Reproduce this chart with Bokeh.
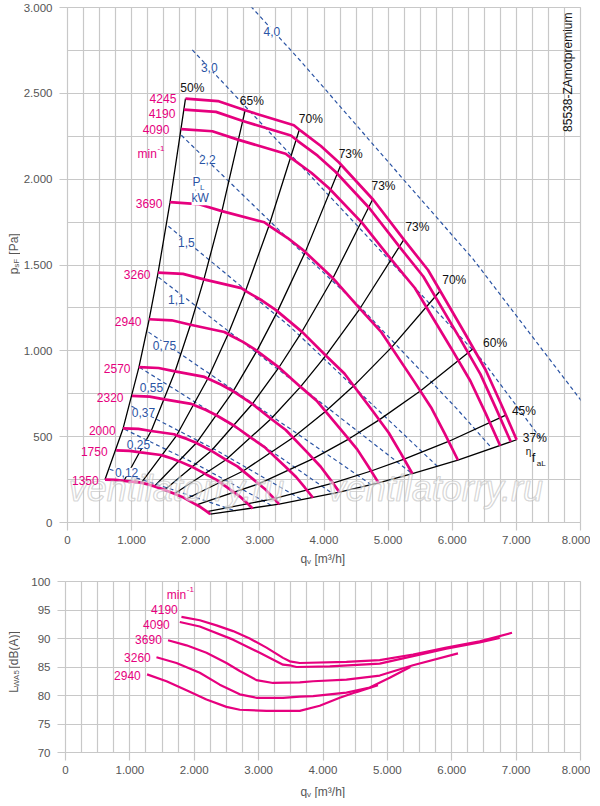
import math
from bokeh.plotting import figure
from bokeh.models import Range1d, FixedTicker, Label
from bokeh.layouts import column, row
from bokeh.embed import file_html
from bokeh.resources import INLINE

# ---------------- axis ticks ----------------
x_ticks = [0, 1000, 2000, 3000, 4000, 5000, 6000, 7000, 8000]
x_tick_labels = ["0", "1.000", "2.000", "3.000", "4.000", "5.000", "6.000", "7.000", "8.000"]
y1_ticks = [0, 500, 1000, 1500, 2000, 2500, 3000]
y1_tick_labels = ["0", "500", "1.000", "1.500", "2.000", "2.500", "3.000"]
y2_ticks = [70, 75, 80, 85, 90, 95, 100]
y2_tick_labels = ["70", "75", "80", "85", "90", "95", "100"]
x_grid = [0, 250, 500, 750, 1000, 1250, 1500, 1750, 2000, 2250, 2500, 2750, 3000, 3250, 3500, 3750,
          4000, 4250, 4500, 4750, 5000, 5250, 5500, 5750, 6000, 6250, 6500, 6750, 7000, 7250, 7500, 7750, 8000]
y1_grid = [0, 250, 500, 750, 1000, 1250, 1500, 1750, 2000, 2250, 2500, 2750, 3000]

# ---------------- speed curves (q_v m3/h, p_sF Pa) ----------------
speed_labels = ["4245", "4190", "4090", "3690", "3260", "2940", "2570", "2320", "2000", "1750", "1350"]
n4245_x = [1840, 2345, 2770, 3530, 3640, 3951, 4234, 4768, 5249, 5622, 6212, 6523, 6770, 7004]
n4245_y = [2469, 2455, 2401, 2314, 2281, 2193, 2097, 1880, 1646, 1471, 1092, 887, 683, 482]
n4190_x = [1816, 2315, 2734, 3484, 3593, 3900, 4179, 4706, 5181, 5549, 6132, 6439, 6682, 6913]
n4190_y = [2405, 2392, 2339, 2254, 2222, 2137, 2043, 1832, 1604, 1433, 1064, 864, 665, 470]
n4090_x = [1773, 2259, 2669, 3401, 3507, 3807, 4079, 4594, 5057, 5417, 5985, 6285, 6523, 6748]
n4090_y = [2292, 2279, 2229, 2148, 2118, 2036, 1947, 1745, 1528, 1366, 1014, 823, 634, 447]
n3690_x = [1599, 2038, 2408, 3069, 3164, 3434, 3680, 4145, 4563, 4887, 5400, 5670, 5885, 6088]
n3690_y = [1866, 1855, 1814, 1749, 1724, 1657, 1585, 1421, 1244, 1112, 825, 670, 516, 364]
n3260_x = [1413, 1801, 2127, 2711, 2795, 3034, 3252, 3662, 4031, 4318, 4771, 5009, 5199, 5379]
n3260_y = [1456, 1448, 1416, 1365, 1345, 1293, 1237, 1109, 971, 868, 644, 523, 403, 284]
n2940_x = [1274, 1624, 1918, 2445, 2521, 2736, 2932, 3302, 3635, 3894, 4302, 4518, 4689, 4851]
n2940_y = [1184, 1178, 1152, 1110, 1094, 1052, 1006, 902, 790, 706, 524, 426, 328, 231]
n2570_x = [1114, 1420, 1677, 2137, 2204, 2392, 2563, 2887, 3178, 3404, 3761, 3949, 4099, 4240]
n2570_y = [905, 900, 880, 848, 836, 804, 769, 689, 603, 539, 400, 325, 250, 177]
n2320_x = [1006, 1282, 1514, 1929, 1989, 2159, 2314, 2606, 2869, 3073, 3395, 3565, 3700, 3828]
n2320_y = [738, 733, 717, 691, 681, 655, 626, 562, 492, 439, 326, 265, 204, 144]
n2000_x = [867, 1105, 1305, 1663, 1715, 1862, 1995, 2246, 2473, 2649, 2927, 3073, 3190, 3300]
n2000_y = [548, 545, 533, 514, 506, 487, 466, 417, 365, 327, 242, 197, 152, 107]
n1750_x = [759, 967, 1142, 1455, 1501, 1629, 1746, 1966, 2164, 2318, 2561, 2689, 2791, 2887]
n1750_y = [420, 417, 408, 393, 388, 373, 356, 320, 280, 250, 186, 151, 116, 82]
n1350_x = [585, 746, 881, 1123, 1158, 1257, 1347, 1516, 1669, 1788, 1976, 2074, 2153, 2227]
n1350_y = [250, 248, 243, 234, 231, 222, 212, 190, 167, 149, 110, 90, 69, 49]
speed_lab_x = [1697, 1682, 1589, 1480, 1294, 1154, 983, 874, 750, 626, 486]
speed_lab_y = [2471, 2384, 2290, 1860, 1446, 1171, 898, 730, 538, 415, 246]

# ---------------- efficiency lines ----------------
eta_labels = ["50%", "65%", "70%", "73%", "73%", "73%", "70%", "60%", "45%", "37%"]
eta50_x = [1840, 1599, 1413, 1274, 1114, 867, 585]
eta50_y = [2469, 1866, 1456, 1184, 905, 548, 250]
eta65_x = [2770, 2408, 2127, 1918, 1677, 1305, 881]
eta65_y = [2401, 1814, 1416, 1152, 880, 533, 243]
eta70a_x = [3615, 3142, 2776, 2504, 2189, 1703, 1150]
eta70a_y = [2288, 1729, 1349, 1097, 839, 508, 231]
eta73a_x = [4265, 3707, 3275, 2954, 2582, 2009, 1356]
eta73a_y = [2085, 1575, 1230, 1000, 764, 463, 211]
eta73b_x = [4760, 4138, 3655, 3297, 2882, 2243, 1514]
eta73b_y = [1883, 1423, 1111, 903, 690, 418, 190]
eta73c_x = [5245, 4559, 4028, 3633, 3175, 2471, 1668]
eta73c_y = [1648, 1245, 972, 790, 604, 366, 167]
eta70b_x = [5813, 5053, 4464, 4026, 3519, 2739, 1849]
eta70b_y = [1350, 1020, 796, 648, 495, 300, 137]
eta60_x = [6330, 5502, 4861, 4384, 3832, 2982, 2013]
eta60_y = [1014, 766, 598, 486, 372, 225, 103]
eta45_x = [6836, 5942, 5250, 4735, 4139, 3221, 2174]
eta45_y = [625, 472, 369, 300, 229, 139, 63]
eta37_x = [7004, 6088, 5379, 4851, 4240, 3300, 2227]
eta37_y = [482, 364, 284, 231, 177, 107, 49]
eta_lab_x = [1760, 2688, 3607, 4229, 4741, 5270, 5844, 6481, 6931, 7101]
eta_lab_y = [2529, 2455, 2349, 2145, 1959, 1720, 1411, 1045, 648, 491]

# ---------------- shaft power lines P_L [kW] ----------------
power_labels = ["4,0", "3,0", "2,2", "1,5", "1,1", "0,75", "0,55", "0,37", "0,25", "0,12"]
pw40_x = [2785, 3639, 5238, 6326, 8150]
pw40_y = [3037, 2687, 1999, 1534, 642]
pw30_x = [1946, 4571, 6480, 7412]
pw30_y = [2753, 1708, 940, 474]
pw22_x = [1775, 3686, 4571, 6078, 6590]
pw22_y = [2256, 1563, 1253, 660, 444]
pw15_x = [1573, 3483, 5766]
pw15_y = [1726, 1137, 328]
pw11_x = [1418, 3483, 5346]
pw11_y = [1429, 835, 293]
pw075_x = [1263, 3483, 4772]
pw075_y = [1109, 543, 211]
pw055_x = [1123, 2862, 4151]
pw055_y = [904, 497, 165]
pw037_x = [999, 2319, 3639]
pw037_y = [677, 421, 136]
pw025_x = [890, 2008, 3173]
pw025_y = [543, 340, 101]
pw012_x = [657, 1620, 2629]
pw012_y = [310, 194, 66]
power_lab_x = [3188, 2210, 2179, 1853, 1697, 1511, 1309, 1185, 1107, 921]
power_lab_y = [2861, 2652, 2116, 1632, 1300, 1032, 788, 642, 456, 292]

# ---------------- sound power L_WA5 [dB(A)] ----------------
noise_labels = ["4190", "4090", "3690", "3260", "2940"]
lw4190_x = [1801, 2086, 2345, 2603, 2862, 3122, 3379, 3483, 3639, 4364, 4881, 5398, 5917, 6434, 6936]
lw4190_y = [93.8, 93.2, 92.3, 91.3, 90.0, 88.4, 86.6, 86.0, 85.7, 85.9, 86.2, 87.2, 88.4, 89.5, 91.0]
lw4090_x = [1775, 2086, 2603, 3017, 3379, 3483, 3588, 4105, 4881, 5398, 5917, 6434, 6745]
lw4090_y = [92.9, 92.1, 89.8, 87.5, 85.4, 85.3, 85.0, 85.1, 85.6, 86.9, 88.2, 89.3, 90.1]
lw3690_x = [1593, 1879, 2190, 2500, 2707, 2966, 3224, 3639, 3846, 4364, 4881, 5398, 6097]
lw3690_y = [89.7, 88.8, 87.5, 85.7, 84.3, 82.7, 82.2, 82.3, 82.5, 82.8, 83.5, 85.3, 87.4]
lw3260_x = [1413, 1724, 2086, 2396, 2707, 2966, 3379, 3639, 3846, 4364, 4726, 5036, 5357]
lw3260_y = [86.7, 85.7, 84.0, 81.9, 80.2, 79.6, 79.6, 79.8, 79.9, 80.5, 81.4, 83.1, 85.0]
lw2940_x = [1267, 1569, 1879, 2190, 2500, 2707, 3122, 3639, 3949, 4260, 4519, 4854]
lw2940_y = [83.7, 82.5, 80.9, 79.3, 78.0, 77.5, 77.3, 77.3, 78.2, 79.6, 80.6, 81.8]
noise_lab_x = [1744, 1620, 1496, 1325, 1169]
noise_lab_y = [95.05, 92.43, 89.81, 86.66, 83.51]

# ---------------- styling ----------------
PINK = "#e6007e"
BLUE = "#2b54a4"
GRID = "#c8c8c8"
TXT = "#555555"
FONT = "Liberation Sans"

speed_x = [n4245_x, n4190_x, n4090_x, n3690_x, n3260_x, n2940_x, n2570_x, n2320_x, n2000_x, n1750_x, n1350_x]
speed_y = [n4245_y, n4190_y, n4090_y, n3690_y, n3260_y, n2940_y, n2570_y, n2320_y, n2000_y, n1750_y, n1350_y]
eta_x = [eta50_x, eta65_x, eta70a_x, eta73a_x, eta73b_x, eta73c_x, eta70b_x, eta60_x, eta45_x, eta37_x]
eta_y = [eta50_y, eta65_y, eta70a_y, eta73a_y, eta73b_y, eta73c_y, eta70b_y, eta60_y, eta45_y, eta37_y]
pw_x = [pw40_x, pw30_x, pw22_x, pw15_x, pw11_x, pw075_x, pw055_x, pw037_x, pw025_x, pw012_x]
pw_y = [pw40_y, pw30_y, pw22_y, pw15_y, pw11_y, pw075_y, pw055_y, pw037_y, pw025_y, pw012_y]
lw_x = [lw4190_x, lw4090_x, lw3690_x, lw3260_x, lw2940_x]
lw_y = [lw4190_y, lw4090_y, lw3690_y, lw3260_y, lw2940_y]

LAB_W = 20      # width of the strip that carries the vertical axis titles
MAIN_W = 570    # 45 + 515 + 10


def style_axes(p, yt, ylabels):
    p.outline_line_color = GRID
    p.outline_line_width = 1.2
    p.background_fill_color = "white"
    p.border_fill_color = "white"
    p.xgrid.ticker = FixedTicker(ticks=x_grid)
    p.xgrid.grid_line_color = GRID
    p.xgrid.grid_line_width = 1.2
    p.ygrid.grid_line_color = GRID
    p.ygrid.grid_line_width = 1.2
    p.xaxis.ticker = FixedTicker(ticks=x_ticks)
    p.xaxis.major_label_overrides = {t: s for t, s in zip(x_ticks, x_tick_labels)}
    p.yaxis.ticker = FixedTicker(ticks=yt)
    p.yaxis.major_label_overrides = {t: s for t, s in zip(yt, ylabels)}
    for ax in (p.xaxis[0], p.yaxis[0]):
        ax.axis_line_color = None
        ax.major_tick_out = 8
        ax.major_tick_in = 0
        ax.major_tick_line_color = GRID
        ax.major_tick_line_width = 1.2
        ax.minor_tick_line_color = None
        ax.major_label_text_color = TXT
        ax.major_label_text_font = FONT
        ax.major_label_text_font_size = "11.5px"
    p.xaxis.major_label_standoff = 5
    p.yaxis.major_label_standoff = 7


def lab(p, x, y, text, color, size="12px", align="left", baseline="middle", angle=0.0, bg=None, style="normal"):
    kw = dict(x=x, y=y, text=text, text_color=color, text_font=FONT, text_font_size=size,
              text_align=align, text_baseline=baseline, angle=angle, text_font_style=style)
    if bg is not None:
        kw["background_fill_color"] = bg
    p.add_layout(Label(**kw))


def strip(w, h):
    s = figure(width=w, height=h, x_range=Range1d(0, w), y_range=Range1d(0, h),
               x_axis_type=None, y_axis_type=None, output_backend="svg", toolbar_location=None,
               min_border_left=0, min_border_right=0, min_border_top=0, min_border_bottom=0)
    s.outline_line_color = None
    s.background_fill_color = "white"
    s.border_fill_color = "white"
    s.grid.visible = False
    return s


# ================= top chart =================
H1 = 550
p1 = figure(width=MAIN_W, height=H1, x_range=Range1d(0, 8000), y_range=Range1d(0, 3000),
            output_backend="svg", toolbar_location=None,
            min_border_left=45, min_border_right=10, min_border_top=7, min_border_bottom=28)
style_axes(p1, y1_ticks, y1_tick_labels)
p1.ygrid.ticker = FixedTicker(ticks=y1_grid)

for xs, ys in zip(pw_x, pw_y):
    p1.line(xs, ys, line_color=BLUE, line_width=1.2, line_dash="4 3")
for xs, ys in zip(eta_x, eta_y):
    p1.line(xs, ys, line_color="black", line_width=1.3)
for xs, ys in zip(speed_x, speed_y):
    p1.line(xs, ys, line_color=PINK, line_width=2.7)

# watermark
for wx in (20, 4058):
    p1.add_layout(Label(x=wx, y=200, text="ventilatorry.ru", text_font=FONT, text_font_size="36px",
                        text_font_style="italic", text_color="white", text_alpha=0.55,
                        text_outline_color="#b4b4b4", text_baseline="alphabetic"))

for t, x, y in zip(speed_labels, speed_lab_x, speed_lab_y):
    lab(p1, x, y, t, PINK, align="right")
lab(p1, 1092, 2146, "min", PINK)
lab(p1, 1402, 2178, "-1", PINK, size="8px")

for t, x, y in zip(eta_labels, eta_lab_x, eta_lab_y):
    lab(p1, x, y, t, "#111111")
lab(p1, 7148, 415, "η", "#111111", size="10px")
lab(p1, 7241, 380, "f", "#111111", size="13px")
lab(p1, 7319, 345, "aL", "#111111", size="8px")

for t, x, y in zip(power_labels, power_lab_x, power_lab_y):
    lab(p1, x, y, t, BLUE, align="center", bg="white")
lab(p1, 2011, 1982, "P", BLUE, align="center", bg="white")
lab(p1, 2101, 1953, "L", BLUE, size="8px", align="center")
lab(p1, 2070, 1889, "kW", BLUE, align="center", bg="white")

lab(p1, 7801, 2623, "85538-ZAmotpremium", "#111111", align="center", angle=math.pi / 2)

ylab1 = strip(LAB_W, H1)
lab(ylab1, 13, 265, "p", TXT, size="12px", angle=math.pi / 2)
lab(ylab1, 16, 272, "sF", TXT, size="8px", angle=math.pi / 2)
lab(ylab1, 13, 286, "[Pa]", TXT, size="12px", angle=math.pi / 2)

xlab1 = strip(LAB_W + MAIN_W, 18)
lab(xlab1, 300, 10, "q", TXT)
lab(xlab1, 306.5, 7, "v", TXT, size="8px")
lab(xlab1, 314, 10, "[m³/h]", TXT)

# ================= bottom chart =================
H2 = 212
p2 = figure(width=MAIN_W, height=H2, x_range=Range1d(0, 8000), y_range=Range1d(70, 100),
            output_backend="svg", toolbar_location=None,
            min_border_left=45, min_border_right=10, min_border_top=13, min_border_bottom=28)
style_axes(p2, y2_ticks, y2_tick_labels)
p2.ygrid.ticker = FixedTicker(ticks=y2_ticks)

for xs, ys in zip(lw_x, lw_y):
    p2.line(xs, ys, line_color=PINK, line_width=2.2)
for t, x, y in zip(noise_labels, noise_lab_x, noise_lab_y):
    lab(p2, x, y, t, PINK, align="right")
lab(p2, 1573, 97.67, "min", PINK)
lab(p2, 1884, 98.55, "-1", PINK, size="8px")

ylab2 = strip(LAB_W, H2)
lab(ylab2, 13, 74, "L", TXT, size="12px", angle=math.pi / 2)
lab(ylab2, 16, 81, "WA5", TXT, size="8px", angle=math.pi / 2)
lab(ylab2, 13, 104, "[dB(A)]", TXT, size="12px", angle=math.pi / 2)

xlab2 = strip(LAB_W + MAIN_W, 18)
lab(xlab2, 300, 7, "q", TXT)
lab(xlab2, 306.5, 4, "v", TXT, size="8px")
lab(xlab2, 314, 7, "[m³/h]", TXT)

layout = column(row(ylab1, p1), xlab1, row(ylab2, p2), xlab2)
open("out.html", "w").write(file_html(layout, INLINE))
